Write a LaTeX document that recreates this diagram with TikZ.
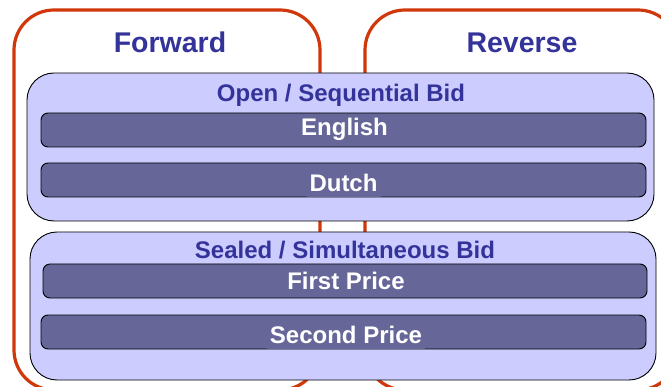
\documentclass[tikz,border=0pt]{standalone}
\usepackage{fontspec}
\setmainfont{Liberation Sans}
\definecolor{redline}{RGB}{208,56,12}
\definecolor{lav}{RGB}{204,204,255}
\definecolor{barcol}{RGB}{102,102,153}
\definecolor{txtblue}{RGB}{51,51,153}
\tikzset{
  redbox/.style={draw=redline, line width=3.2pt, rounded corners=40pt, inner sep=0pt},
  lavbox/.style={draw=black, line width=0.9pt, fill=lav, rounded corners=27pt, inner sep=0pt},
  barbox/.style={draw=black, line width=0.9pt, fill=barcol, rounded corners=7pt, inner sep=0pt, minimum height=34pt},
  title/.style={text=txtblue, font=\bfseries\fontsize{28.5}{32}\selectfont, anchor=base, inner sep=0pt},
  group/.style={text=txtblue, font=\bfseries\fontsize{24}{28}\selectfont, anchor=base, inner sep=0pt},
  barlabel/.style={text=white, font=\bfseries\fontsize{24}{28}\selectfont, anchor=base, inner sep=0pt},
  patchlabel/.style={barlabel, fill=barcol, inner xsep=3pt, inner ysep=5pt, text depth=0pt}
}
\begin{document}
\begin{tikzpicture}[x=1pt,y=-1pt]
\useasboundingbox (0,0) rectangle (661,387);
\clip (0,0) rectangle (661,387);
\fill[white] (0,0) rectangle (661,387);
% outer red groups
\node[redbox, minimum width=306pt, minimum height=380pt] (fwd) at (167,200) {};
\node[redbox, minimum width=313pt, minimum height=380pt] (rev) at (521.5,200) {};
\node[title] (fwdt) at (170,53) {Forward};
\node[title] (revt) at (522,53) {Reverse};
% lavender groups
\node[lavbox, minimum width=627pt, minimum height=148pt] (open) at (340.5,147) {};
\node[lavbox, minimum width=626pt, minimum height=148pt] (sealed) at (343,306) {};
\node[group] (opent) at (341,102) {Open / Sequential Bid};
\node[group] (sealedt) at (345,259) {Sealed / Simultaneous Bid};
% bars
\node[barbox, minimum width=605pt] (eng) at (343.5,130) {};
\node[barbox, minimum width=605pt] (dut) at (343.5,180) {};
\node[barbox, minimum width=604pt] (fp) at (345,281) {};
\node[barbox, minimum width=605pt] (sp) at (343.5,332) {};
\node[barlabel] (engt) at (344.5,136) {English};
\node[patchlabel] (dutt) at (343.5,192) {Dutch};
\node[barlabel] (fpt) at (346,290) {First Price};
\node[patchlabel, inner ysep=6pt] (spt) at (346,343) {Second Price};
\end{tikzpicture}
\end{document}
